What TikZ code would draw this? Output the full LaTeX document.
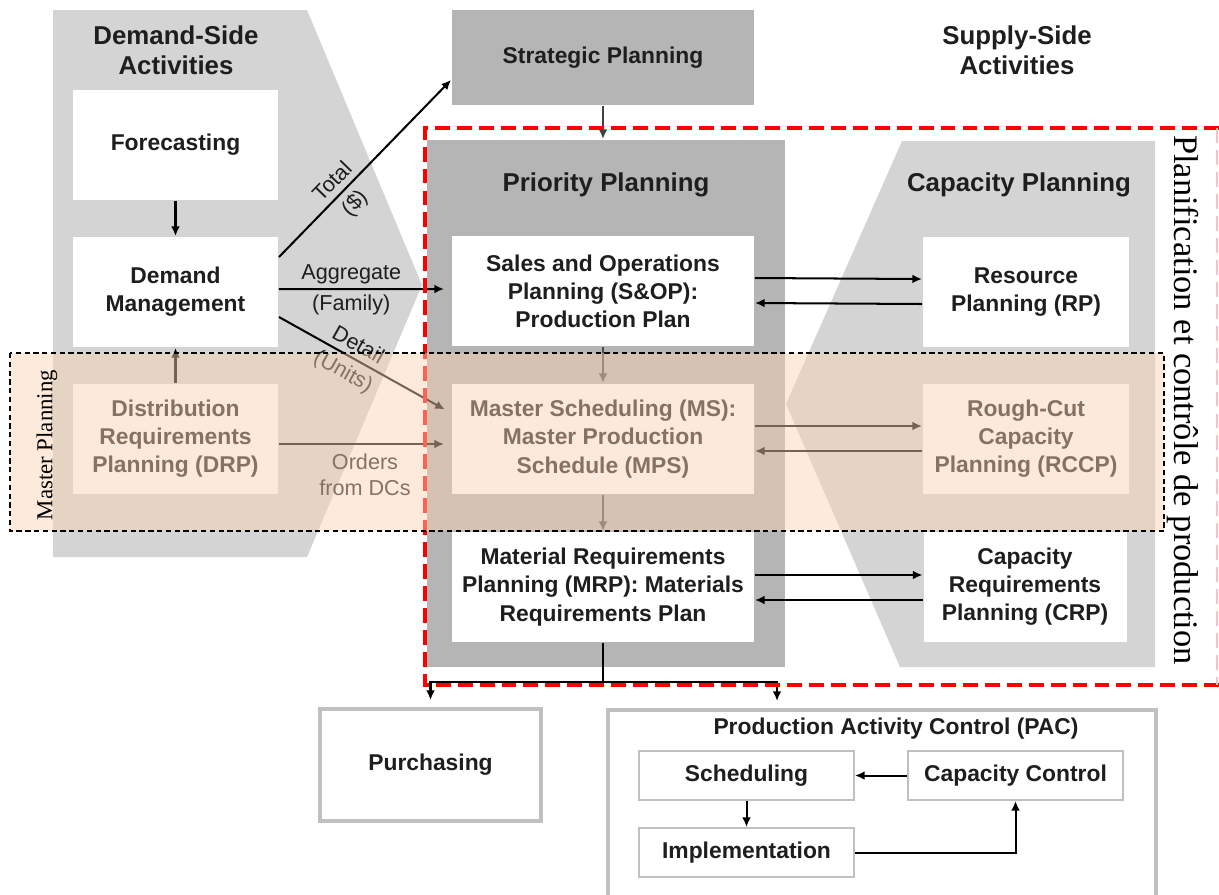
\documentclass[tikz,border=0pt]{standalone}
\usepackage{fontspec}
\setmainfont{Liberation Sans}
\newfontfamily\serifname{Liberation Serif}
\usetikzlibrary{arrows.meta}
\definecolor{lightbg}{RGB}{212,212,212}
\definecolor{darkbg}{RGB}{181,181,181}
\definecolor{boxline}{RGB}{192,192,192}
\definecolor{ink}{RGB}{30,30,30}
\definecolor{peach}{RGB}{250,210,178}
\begin{document}
\begin{tikzpicture}[x=0.02cm, y=-0.02cm, >={Latex[length=5.5pt,width=5pt]}, line width=1.15pt]
			\tikzstyle{Box} = [rectangle, fill=white, text=ink, minimum width=4.1cm, minimum height=2.2cm, inner sep=0pt, align=center, font=\fontsize{13}{16}\selectfont\bfseries]
			\tikzstyle{WideBox} = [Box, minimum width=6.04cm]
			\tikzstyle{SmallBox} = [Box, draw=boxline, line width=1.1pt, minimum width=4.3cm, minimum height=0.98cm]
			\tikzstyle{Title} = [text=ink, align=center, font=\fontsize{14.7}{17}\selectfont\bfseries]
			\tikzstyle{Label} = [text=ink, align=center, inner sep=3.5pt, font=\fontsize{12.3}{14.8}\selectfont]
			\useasboundingbox (0,0) rectangle (1219,894);
			\fill [lightbg] (53,10) -- (307,10) -- (422,285) -- (307,557) -- (53,557) -- cycle;
			\fill [lightbg] (902,141) -- (1155,141) -- (1155,667) -- (900,667) -- (786,404) -- cycle;
			\node (priority) at (606,403.5) [rectangle, fill=darkbg, minimum width=7.16cm, minimum height=10.54cm] {};
			\node (strategic) at (603,57.5) [Box, fill=darkbg, minimum width=6.04cm, minimum height=1.9cm] {Strategic Planning};
			\node (demandtitle) at (176,50) [Title] {Demand-Side\\Activities};
			\node (supplytitle) at (1017,50) [Title] {Supply-Side\\Activities};
			\node (prioritytitle) at (606,185) [Title] {Priority Planning};
			\node (capacitytitle) at (1019,185) [Title] {Capacity Planning};
			\node (forecast) at (175.5,144.5) [Box] {Forecasting};
			\node (demand) at (175.5,292) [Box] {Demand\\Management};
			\node (drp) at (175.5,439) [Box] {Distribution\\Requirements\\Planning (DRP)};
			\node (sop) at (603,291) [WideBox] {Sales and Operations\\Planning (S\&OP):\\Production Plan};
			\node (ms) at (603,439) [WideBox] {Master Scheduling (MS):\\Master Production\\Schedule (MPS)};
			\node (mrp) at (603,587) [WideBox] {Material Requirements\\Planning (MRP): Materials\\Requirements Plan};
			\node (rp) at (1026,292) [Box, minimum width=4.12cm] {Resource\\Planning (RP)};
			\node (rccp) at (1026,439) [Box, minimum width=4.12cm] {Rough-Cut\\Capacity\\Planning (RCCP)};
			\node (crp) at (1025,587) [Box, minimum width=4.06cm] {Capacity\\Requirements\\Planning (CRP)};
			\node (purchasing) at (430.5,765) [Box, draw=boxline, line width=2.3pt, minimum width=4.42cm, minimum height=2.24cm] {Purchasing};
			\node (pac) at (882,805) [Box, draw=boxline, line width=2.3pt, minimum width=10.96cm, minimum height=3.8cm] {};
			\node (pactitle) at (896,729) [Title, font=\fontsize{13}{16}\selectfont\bfseries] {Production Activity Control (PAC)};
			\node (sched) at (746.5,775.5) [SmallBox] {Scheduling};
			\node (capctrl) at (1015.5,775.5) [SmallBox] {Capacity Control};
			\node (impl) at (746.5,852.5) [SmallBox] {Implementation};
			\coordinate (split) at (603,682);
			\draw [->] (forecast) to (demand);
			\draw [->] (drp) to (demand);
			\draw [->] ([yshift=0.7cm]demand.east) to node[pos=0.37, sloped, above, Label] {Total} node[pos=0.37, sloped, below, Label] {(\$)} ([yshift=-0.45cm]strategic.west);
			\draw [->, shorten >=0.14cm] ([yshift=0.06cm]demand.east) to node[pos=0.42, above, Label, inner sep=2.5pt] {Aggregate} node[pos=0.42, below, Label, inner sep=2.5pt] {(Family)} ([yshift=0.04cm]sop.west);
			\draw [->, shorten >=0.14cm] ([yshift=-0.5cm]demand.east) to node[pos=0.42, sloped, above, Label] {Detail} node[pos=0.42, sloped, below, Label] {(Units)} ([yshift=0.52cm]ms.west);
			\draw [->, shorten >=0.14cm] ([yshift=-0.1cm]drp.east) to node[pos=0.5, below, Label, inner sep=5pt] {Orders\\from DCs} ([yshift=-0.1cm]ms.west);
			\draw [->, black!75] (strategic.south) to (strategic.south |- priority.north);
			\draw [->, black!70] (sop) to (ms);
			\draw [->, black!70] (ms) to (mrp);
			\draw [->] ([yshift=0.26cm]sop.east) to ([yshift=0.26cm]rp.west);
			\draw [->] ([yshift=-0.24cm]rp.west) to ([yshift=-0.24cm]sop.east);
			\draw [->] ([yshift=0.26cm]ms.east) to ([yshift=0.26cm]rccp.west);
			\draw [->] ([yshift=-0.24cm]rccp.west) to ([yshift=-0.24cm]ms.east);
			\draw [->] ([yshift=0.24cm]mrp.east) to ([yshift=0.24cm]crp.west);
			\draw [->] ([yshift=-0.26cm]crp.west) to ([yshift=-0.26cm]mrp.east);
			\draw (mrp.south) to (split);
			\draw [->, shorten >=0.14cm] (split) -| (purchasing.north);
			\draw [->, shorten >=0.14cm] (split) -| ([xshift=-2.1cm]pac.north);
			\draw [->] (capctrl) to (sched);
			\draw [->] (sched) to (impl);
			\draw [->] (impl.east) -| (capctrl.south);
			\draw [red, line width=1.8pt, dash pattern=on 8.5pt off 4pt] (1219,128) -- (425,128) -- (425,685) -- (1219,685);
			\draw [red!25, line width=1pt, dash pattern=on 8.5pt off 4pt] (1217,128) -- (1217,685);
			\fill [peach, fill opacity=0.47] (10,353) rectangle (1164,531);
			\draw [black, line width=0.8pt, dash pattern=on 3pt off 2pt] (10,353) rectangle (1164,531);
			\node (masterlabel) at (47,445) [rotate=90, font=\serifname\fontsize{13}{15}\selectfont] {Master Planning};
			\node (pcplabel) at (1183,400) [rotate=-90, font=\serifname\fontsize{19.6}{22}\selectfont] {Planification et contrôle de production};
		\end{tikzpicture}
\end{document}
